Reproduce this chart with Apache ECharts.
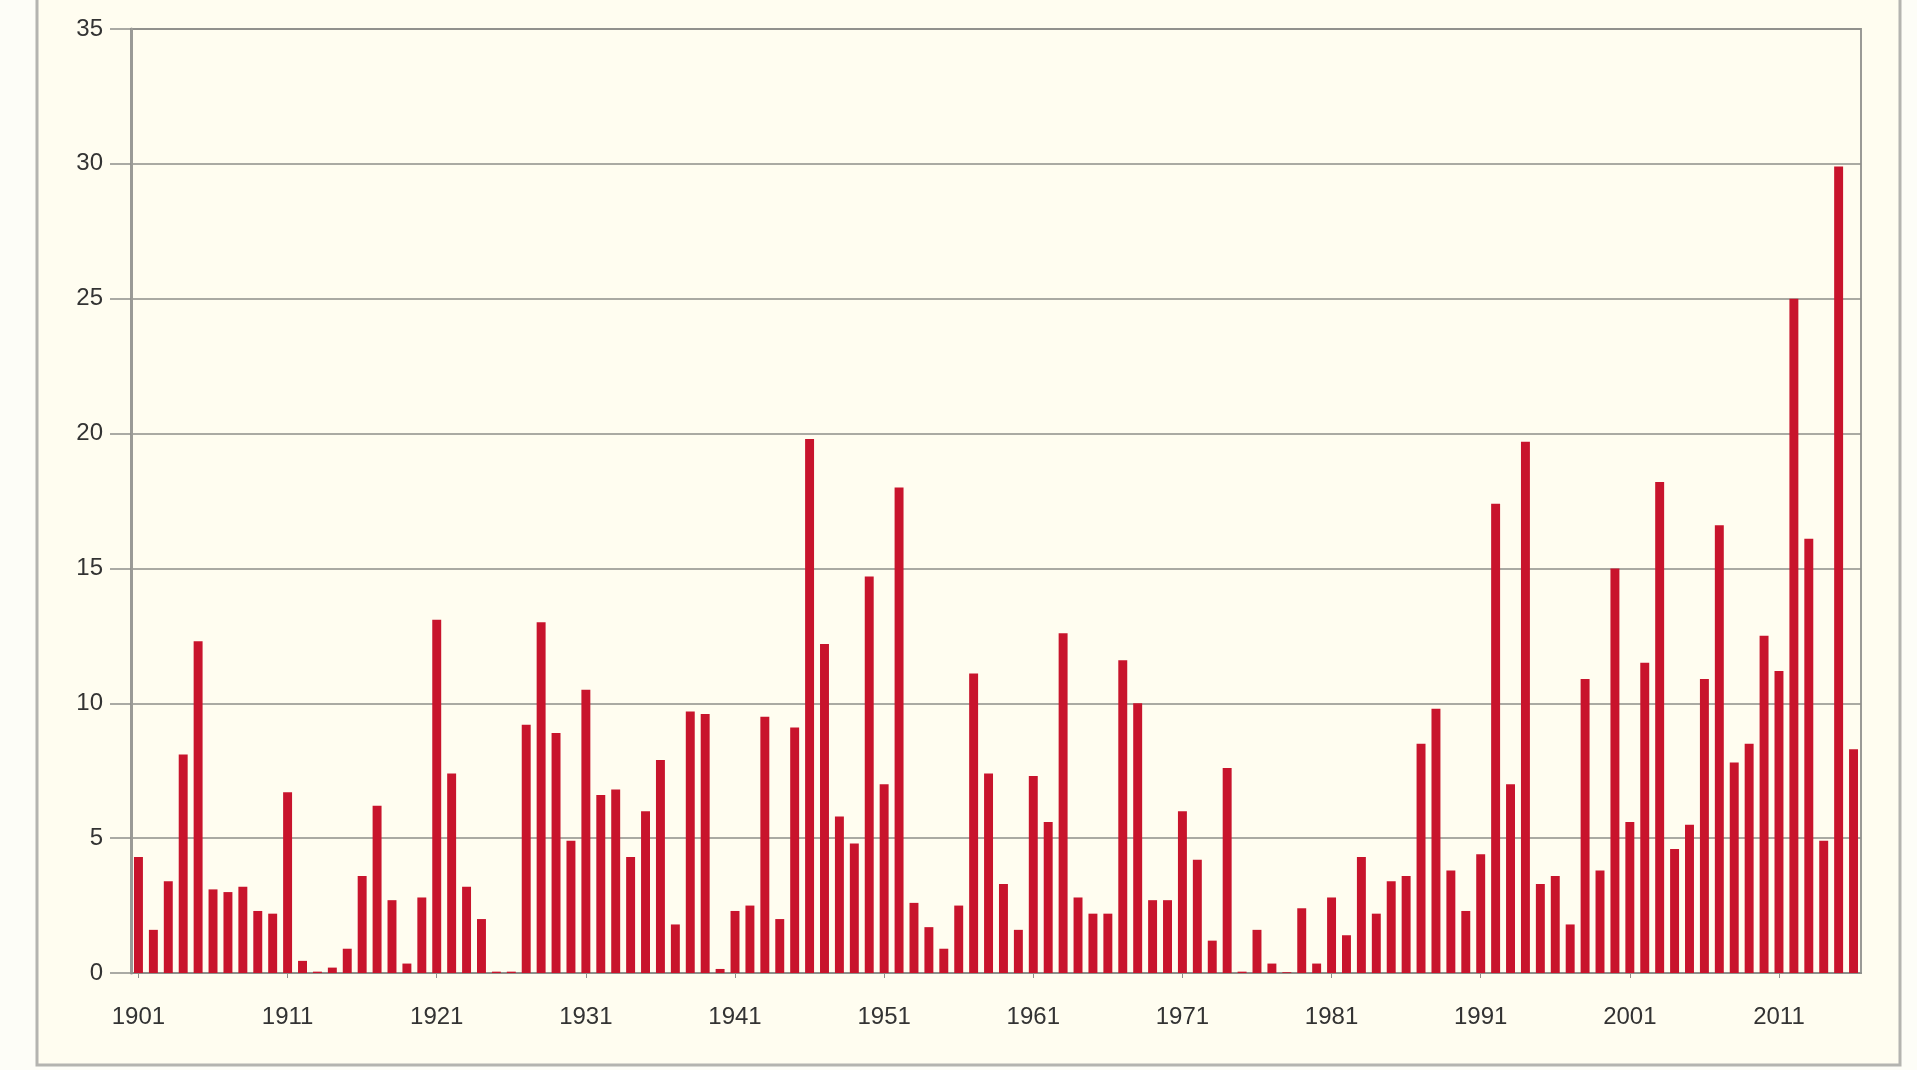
<!DOCTYPE html>
<html>
<head>
<meta charset="utf-8">
<script src="https://cdn.jsdelivr.net/npm/echarts@6/dist/echarts.min.js"></script>
<style>
  html, body { margin: 0; padding: 0; background: #fdfdf7; }
  #chart { width: 1917px; height: 1070px; }
</style>
</head>
<body>
<div id="chart"></div>
<script>
// years 1901 .. 2016
const firstYear = 1901
const lastYear = 2016
const years = []
for (let y = firstYear; y <= lastYear; y++) years.push(String(y))

// yearly values
const values = [
  4.3, 1.6, 3.4, 8.1, 12.3, 3.1, 3.0, 3.2, 2.3, 2.2,      // 1901-1910
  6.7, 0.45, 0.05, 0.2, 0.9, 3.6, 6.2, 2.7, 0.35, 2.8,    // 1911-1920
  13.1, 7.4, 3.2, 2.0, 0.05, 0.05, 9.2, 13.0, 8.9, 4.9,   // 1921-1930
  10.5, 6.6, 6.8, 4.3, 6.0, 7.9, 1.8, 9.7, 9.6, 0.15,     // 1931-1940
  2.3, 2.5, 9.5, 2.0, 9.1, 19.8, 12.2, 5.8, 4.8, 14.7,    // 1941-1950
  7.0, 18.0, 2.6, 1.7, 0.9, 2.5, 11.1, 7.4, 3.3, 1.6,     // 1951-1960
  7.3, 5.6, 12.6, 2.8, 2.2, 2.2, 11.6, 10.0, 2.7, 2.7,    // 1961-1970
  6.0, 4.2, 1.2, 7.6, 0.05, 1.6, 0.35, 0.03, 2.4, 0.35,   // 1971-1980
  2.8, 1.4, 4.3, 2.2, 3.4, 3.6, 8.5, 9.8, 3.8, 2.3,       // 1981-1990
  4.4, 17.4, 7.0, 19.7, 3.3, 3.6, 1.8, 10.9, 3.8, 15.0,   // 1991-2000
  5.6, 11.5, 18.2, 4.6, 5.5, 10.9, 16.6, 7.8, 8.5, 12.5,  // 2001-2010
  11.2, 25.0, 16.1, 4.9, 29.9, 8.3                        // 2011-2016
]

const yTicks = { min: 0, max: 35, interval: 5 }

const chart = echarts.init(document.getElementById("chart"))

chart.setOption({
  backgroundColor: "#fdfdf7",
  animation: false,
  graphic: [
    {
      type: "rect",
      shape: { x: 37, y: -4, width: 1863, height: 1069 },
      style: { fill: "#fffdf0", stroke: "#b4b4b0", lineWidth: 3 },
      z: -10
    }
  ],
  grid: {
    left: 131,
    right: 56,
    top: 29,
    bottom: 97,
    show: true,
    backgroundColor: "#fffdf0",
    borderColor: "#9a9a96",
    borderWidth: 2
  },
  xAxis: {
    type: "category",
    data: years,
    boundaryGap: true,
    axisLine: { lineStyle: { color: "#8e8e8a", width: 2 } },
    axisTick: { show: true, alignWithLabel: true, interval: 9, length: 5, lineStyle: { color: "#8e8e8a" } },
    axisLabel: {
      interval: 9,
      margin: 32,
      color: "#333",
      fontFamily: "Liberation Sans",
      fontSize: 24
    },
    splitLine: { show: false }
  },
  yAxis: {
    type: "value",
    min: yTicks.min,
    max: yTicks.max,
    interval: yTicks.interval,
    axisLine: { show: true, lineStyle: { color: "#9a9a96", width: 3 } },
    axisTick: { show: true, length: 21, lineStyle: { color: "#8e8e8a", width: 1.5 } },
    axisLabel: {
      margin: 28,
      color: "#333",
      fontFamily: "Liberation Sans",
      fontSize: 24
    },
    splitLine: { lineStyle: { color: "#8e8e8a", width: 1.5 } }
  },
  series: [
    {
      type: "bar",
      data: values,
      barWidth: "60%",
      itemStyle: { color: "#c8142c" }
    }
  ]
})
</script>
</body>
</html>
